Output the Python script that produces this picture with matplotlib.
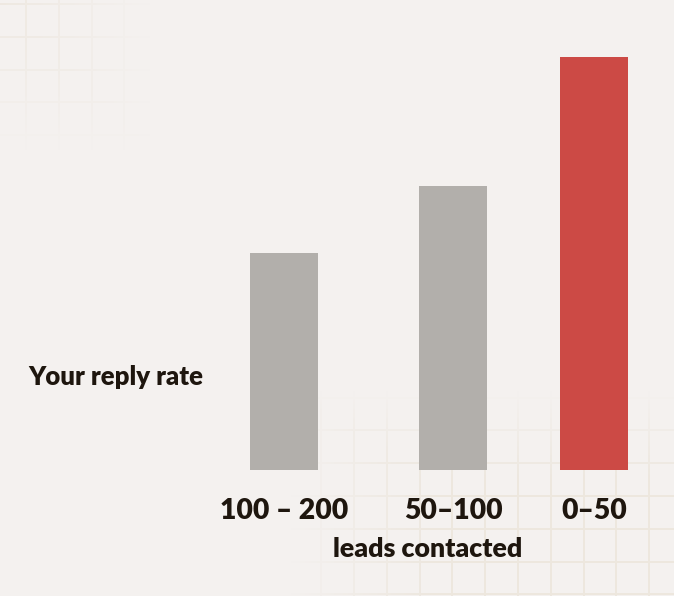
import numpy as np
import matplotlib
matplotlib.use("Agg")
import matplotlib.pyplot as plt

# ---- data ----
categories = ["100 – 200", "50–100", "0–50"]
reply_rate = [2.10, 2.75, 4.00]   # relative reply rate (no axis shown)
bar_colors = ["#b2afab", "#b2afab", "#cc4a45"]
x_pos = [0.0, 1.0, 1.834]

W, H = 674, 596
DPI = 100
bg = "#f4f1ef"
ink = "#1e160e"

fig = plt.figure(figsize=(W / DPI, H / DPI), dpi=DPI)
fig.patch.set_facecolor(bg)

# ---- decorative faint grid background ----
img = np.zeros((H, W, 4))
gc = np.array([0xea, 0xe3, 0xd8]) / 255.0
yy, xx = np.mgrid[0:H, 0:W]
lines = np.zeros((H, W), bool)
step = 32.8
for k in range(-1, 25):
    gx = int(round(26 + step * k))
    if 0 <= gx < W:
        lines[:, max(gx - 1, 0):gx + 1] = True
    gy = int(round(4 + step * k))
    if 0 <= gy < H:
        lines[max(gy - 1, 0):gy + 1, :] = True
a_tl = np.clip(1 - np.maximum(xx / 150.0, yy / 150.0), 0, 1)
a_br = np.clip(np.minimum((xx - 290) / 140.0, (yy - 390) / 90.0), 0, 1)
alpha = np.maximum(a_tl * 0.6, a_br * 0.7) * lines
img[..., :3] = gc
img[..., 3] = alpha
bgax = fig.add_axes([0, 0, 1, 1], zorder=0)
bgax.imshow(img, extent=[0, W, H, 0], interpolation="nearest", aspect="auto")
bgax.set_xlim(0, W)
bgax.set_ylim(H, 0)
bgax.axis("off")

# ---- main axes ----
unit = 169.0
x0px = 284.0
left_px, right_px = 200.0, 674.0
base_px, top_px = 470.0, 20.0
ax = fig.add_axes([left_px / W, (H - base_px) / H, (right_px - left_px) / W, (base_px - top_px) / H], zorder=1)
ax.set_facecolor("none")
ax.set_xlim((left_px - x0px) / unit, (right_px - x0px) / unit)
ax.set_ylim(0, 4.0 * (base_px - top_px) / 413.0)

ax.bar(x_pos, reply_rate, width=68 / unit, color=bar_colors, edgecolor="none")

for s in ax.spines.values():
    s.set_visible(False)
ax.set_yticks([])
ax.set_xticks(x_pos)
ax.set_xticklabels(categories, fontsize=20.4, fontweight="heavy", color=ink, family="Lato")
ax.tick_params(axis="x", length=0, pad=20)

fig.text(428 / W, 1 - 549 / H, "leads contacted", ha="center", va="center",
         fontsize=19.3, fontweight="heavy", color=ink, family="Lato")
fig.text(28 / W, 1 - 377 / H, "Your reply rate", ha="left", va="center",
         fontsize=18.5, fontweight="heavy", color=ink, family="Lato")

fig.savefig("out.png", dpi=DPI, facecolor=bg)
